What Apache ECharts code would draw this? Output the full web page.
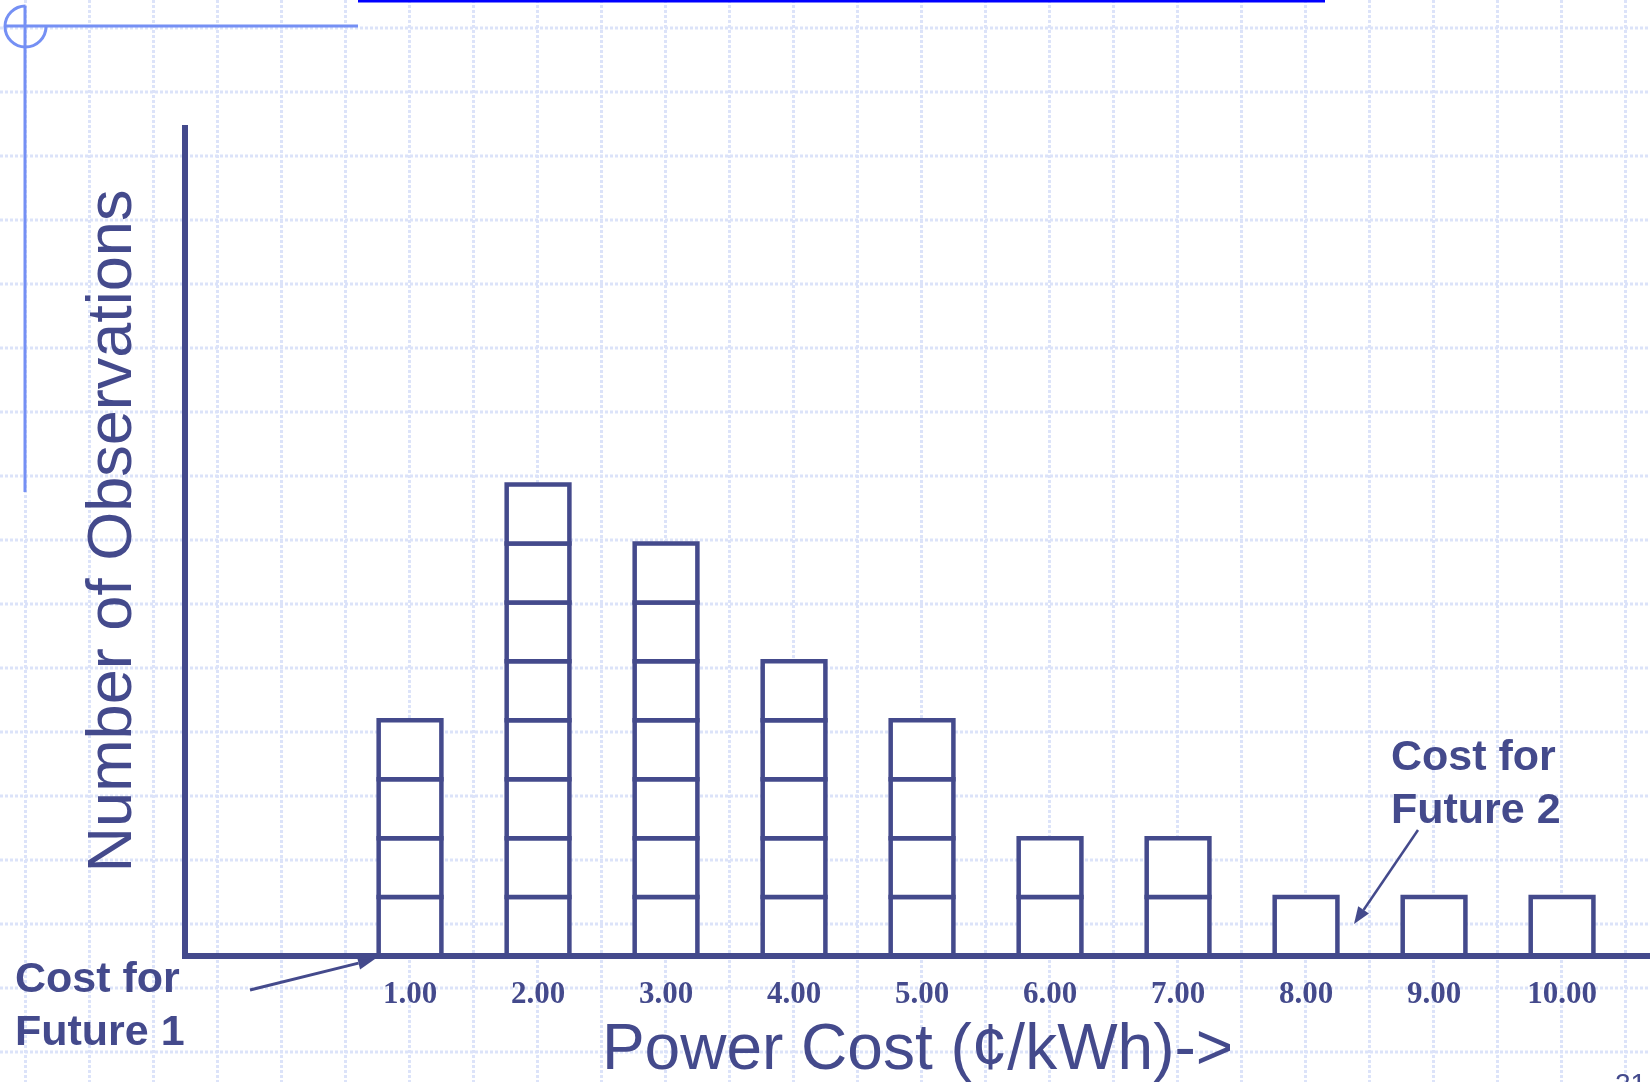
<!DOCTYPE html>
<html>
<head>
<meta charset="utf-8">
<title>Power Cost Distribution</title>
<script src="https://cdn.jsdelivr.net/npm/echarts@6/dist/echarts.min.js"></script>
<style>
  html, body { margin: 0; padding: 0; background: #ffffff; }
  #chart { width: 1650px; height: 1082px; }
</style>
</head>
<body>
<div id="chart"></div>
<script>
// Power cost outcomes (cents per kWh) and how often each was observed
const costValues = [1, 2, 3, 4, 5, 6, 7, 8, 9, 10];
const costLabels = ['1.00', '2.00', '3.00', '4.00', '5.00', '6.00', '7.00', '8.00', '9.00', '10.00'];
const observationCounts = [4, 8, 7, 5, 4, 2, 2, 1, 1, 1];

const NAVY = '#444a8c';
const PALE = '#7590f4';
const W = 1650, H = 1082;

const chart = echarts.init(document.getElementById('chart'), null, { renderer: 'canvas' });

// slide paper: light squared grid
const paper = [];
const paperStyle = { stroke: '#dce3f9', lineWidth: 3, lineDash: [3, 2] };
for (let x = 25.5; x < W; x += 64) {
  paper.push({ type: 'line', z: -10, silent: true,
    shape: { x1: x, y1: 0, x2: x, y2: H }, style: paperStyle });
}
for (let y = 28; y < H; y += 64) {
  paper.push({ type: 'line', z: -10, silent: true,
    shape: { x1: 0, y1: y, x2: W, y2: y }, style: paperStyle });
}

// slide ornament: ring with cross lines, and the heading underline
const ornament = [
  { type: 'arc', z: -5, shape: { cx: 25.5, cy: 26.5, r: 20.5, startAngle: 0, endAngle: Math.PI * 1.5, clockwise: true },
    style: { stroke: PALE, lineWidth: 3, fill: null } },
  { type: 'line', z: -5, shape: { x1: 4, y1: 26, x2: 358, y2: 26 }, style: { stroke: PALE, lineWidth: 3 } },
  { type: 'line', z: -5, shape: { x1: 25, y1: 6, x2: 25, y2: 492 }, style: { stroke: PALE, lineWidth: 3 } },
  { type: 'rect', z: -5, shape: { x: 358, y: 0, width: 967, height: 2.5 }, style: { fill: '#0000ff' } }
];

function arrow(x1, y1, x2, y2, width) {
  const dx = x2 - x1, dy = y2 - y1, len = Math.hypot(dx, dy);
  const ux = dx / len, uy = dy / len;
  const headLen = 17, headHalf = 6.5;
  const bx = x2 - ux * headLen, by = y2 - uy * headLen;
  return [
    { type: 'line', z: 20, shape: { x1: x1, y1: y1, x2: bx, y2: by }, style: { stroke: NAVY, lineWidth: width } },
    { type: 'polygon', z: 20, shape: { points: [[x2, y2], [bx - uy * headHalf, by + ux * headHalf], [bx + uy * headHalf, by - ux * headHalf]] },
      style: { fill: NAVY } }
  ];
}

const noteStyle = {
  fill: NAVY, font: 'bold 43px "Liberation Sans", Arial, sans-serif',
  lineHeight: 53, align: 'left', verticalAlign: 'middle'
};
const notes = [
  { type: 'text', z: 20, x: 15, y: 1007, style: Object.assign({ text: 'Cost for\nFuture 1' }, noteStyle) },
  { type: 'text', z: 20, x: 1391, y: 785, style: Object.assign({ text: 'Cost for\nFuture 2' }, noteStyle) },
  { type: 'text', z: 20, x: 1615, y: 1085, style: { text: '21', fill: NAVY, font: '28px "Liberation Sans", Arial, sans-serif', verticalAlign: 'middle' } }
].concat(arrow(250, 990, 375, 959, 3), arrow(1418, 830, 1354, 924, 2.5));

// each observation is drawn as one stacked square
const HALF_W = 0.245;
function renderStack(params, api) {
  const x = api.value(0);
  const n = api.value(1);
  const children = [];
  for (let k = 0; k < n; k++) {
    const p0 = api.coord([x - HALF_W, k + 1]);
    const p1 = api.coord([x + HALF_W, k]);
    children.push({
      type: 'rect',
      shape: { x: p0[0], y: p0[1], width: p1[0] - p0[0], height: p1[1] - p0[1] },
      style: { fill: '#ffffff', stroke: NAVY, lineWidth: 4.5 }
    });
  }
  return { type: 'group', children: children };
}

chart.setOption({
  animation: false,
  backgroundColor: '#ffffff',
  grid: { left: 185, right: 0, top: 128, bottom: 126, containLabel: false, outerBoundsMode: 'none' },
  xAxis: {
    type: 'value', min: -0.758, max: 10.687, z: 6,
    name: 'Power Cost (\u00a2/kWh)->', nameLocation: 'middle', nameGap: 63, nameMoveOverlap: false,
    nameTextStyle: { fontFamily: '"Liberation Sans", Arial, sans-serif', fontSize: 64, color: NAVY },
    axisLine: { show: true, onZero: false, lineStyle: { color: NAVY, width: 6 } },
    axisTick: { show: false },
    splitLine: { show: false },
    axisLabel: {
      customValues: costValues, margin: 39, verticalAlign: 'middle',
      fontFamily: '"Liberation Serif", "Times New Roman", serif', fontWeight: 'bold', fontSize: 31, color: NAVY,
      formatter: function (v) { const i = costValues.indexOf(Math.round(v)); return i >= 0 ? costLabels[i] : ''; }
    }
  },
  yAxis: {
    type: 'value', min: 0, max: 14.05, z: 6,
    name: 'Number of Observations', nameLocation: 'middle', nameRotate: 90, nameGap: 40, nameMoveOverlap: false,
    nameTextStyle: { fontFamily: '"Liberation Sans", Arial, sans-serif', fontSize: 63, color: NAVY, padding: [0, 0, 0, 22] },
    axisLine: { show: true, onZero: false, lineStyle: { color: NAVY, width: 6, cap: 'square' } },
    axisTick: { show: false },
    axisLabel: { show: false },
    splitLine: { show: false }
  },
  series: [{
    type: 'custom', z: 5, clip: false,
    renderItem: renderStack,
    encode: { x: 0, y: 1 },
    data: costValues.map(function (v, i) { return [v, observationCounts[i]]; })
  }],
  graphic: { elements: paper.concat(ornament, notes) }
});
</script>
</body>
</html>
